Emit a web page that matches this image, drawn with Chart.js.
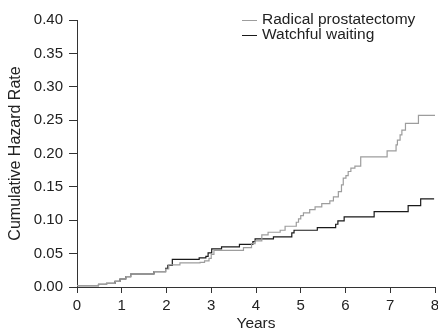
<!DOCTYPE html>
<html>
<head>
<meta charset="utf-8">
<script src="https://cdn.jsdelivr.net/npm/chart.js@4/dist/chart.umd.min.js"></script>
<style>
  html, body { margin: 0; padding: 0; background: #fff; }
  #wrap { width: 438px; height: 331px; }
</style>
</head>
<body>
<div id="wrap"><canvas id="HazardChart"></canvas></div>
<script>
// step times (years) and cumulative hazard after each step
const rpYears = [0, 0.48, 0.66, 0.85, 0.96, 1.09, 1.2, 1.72, 1.98, 2.05, 2.3, 2.75, 2.85, 2.95, 3.0, 3.06,
    3.72, 3.9, 3.98, 4.13, 4.27, 4.54, 4.65, 4.9, 4.95, 5.0, 5.06, 5.2, 5.32, 5.47, 5.65, 5.73, 5.84, 5.91,
    5.95, 6.01, 6.06, 6.12, 6.21, 6.34, 6.93, 7.13, 7.16, 7.22, 7.26, 7.34, 7.63, 8.0];
const rpHazard = [0.002, 0.004, 0.0055, 0.0085, 0.012, 0.0155, 0.0195, 0.023, 0.027, 0.033, 0.036, 0.037, 0.039,
    0.043, 0.049, 0.055, 0.059, 0.065, 0.069, 0.078, 0.082, 0.085, 0.091, 0.097, 0.102, 0.107, 0.111, 0.116,
    0.120, 0.125, 0.129, 0.135, 0.143, 0.153, 0.163, 0.167, 0.173, 0.178, 0.181, 0.195, 0.204, 0.213, 0.220,
    0.228, 0.235, 0.245, 0.257, 0.257];

const wwYears = [0, 0.48, 0.66, 0.85, 0.96, 1.09, 1.2, 1.72, 1.98, 2.03, 2.13, 2.73, 2.88, 2.93, 3.01, 3.23,
    3.63, 3.93, 3.98, 4.39, 4.8, 4.85, 5.37, 5.78, 5.83, 5.97, 6.64, 7.4, 7.68, 7.98];
const wwHazard = [0.002, 0.004, 0.0055, 0.0085, 0.012, 0.0155, 0.0195, 0.023, 0.028, 0.0325, 0.0415, 0.0435,
    0.046, 0.051, 0.057, 0.060, 0.064, 0.068, 0.072, 0.075, 0.081, 0.085, 0.089, 0.094, 0.099, 0.105, 0.113,
    0.122, 0.132, 0.132];

const yTicks = [0, 0.05, 0.10, 0.15, 0.20, 0.25, 0.30, 0.35, 0.40];
const xTicks = [0, 1, 2, 3, 4, 5, 6, 7, 8];

const seriesLabels = ['Radical prostatectomy', 'Watchful waiting'];

const family = "'Liberation Sans', Arial, sans-serif";
const tickFont = { family: family, size: 15 };
const titleFont = { family: family, size: 15.5 };
const axisColor = '#333';

const toPoints = (xs, ys) => xs.map((x, i) => ({ x: x, y: ys[i] }));

// small legend in the top right corner, like the original
const cornerLegend = {
    id: 'cornerLegend',
    afterDraw(chart) {
        const ctx = chart.ctx;
        ctx.save();
        ctx.font = `15.5px ${family}`;
        ctx.textBaseline = 'middle';
        chart.data.datasets.forEach((ds, i) => {
            const y = 19.5 + i * 15;
            ctx.strokeStyle = ds.borderColor;
            ctx.lineWidth = 1;
            ctx.beginPath();
            ctx.moveTo(242, y + 1);
            ctx.lineTo(257, y + 1);
            ctx.stroke();
            ctx.fillStyle = '#222';
            ctx.fillText(ds.label, 262, y);
        });
        ctx.restore();
    }
};

new Chart(document.getElementById('HazardChart').getContext('2d'), {
    type: 'line',
    data: {
        datasets: [
            {
                label: seriesLabels[0],
                data: toPoints(rpYears, rpHazard),
                borderColor: '#9d9d9d',
                borderWidth: 1.2,
                stepped: true,
                pointRadius: 0,
                fill: false
            },
            {
                label: seriesLabels[1],
                data: toPoints(wwYears, wwHazard),
                borderColor: '#1a1a1a',
                borderWidth: 1.2,
                stepped: true,
                pointRadius: 0,
                fill: false
            }
        ]
    },
    options: {
        responsive: true,
        maintainAspectRatio: false,
        animation: false,
        layout: { padding: { top: 20, right: 3, left: 0, bottom: 0 } },
        plugins: {
            legend: { display: false },
            tooltip: { enabled: false }
        },
        scales: {
            x: {
                type: 'linear',
                min: 0,
                max: 8,
                afterBuildTicks: s => { s.ticks = xTicks.map(v => ({ value: v })); },
                afterFit: s => { s.height = 44; s.paddingRight = 0; s.paddingLeft = 0; },
                ticks: { color: '#222', font: tickFont, padding: 4, maxRotation: 0 },
                grid: { drawOnChartArea: false, drawTicks: true, tickLength: 6, color: axisColor },
                border: { display: true, color: axisColor },
                title: { display: true, text: 'Years', color: '#222', font: titleFont, padding: { top: 0, bottom: -2 } }
            },
            y: {
                min: 0,
                max: 0.4,
                afterBuildTicks: s => { s.ticks = yTicks.map(v => ({ value: v })); },
                afterFit: s => { s.width = 77; },
                ticks: { color: '#222', font: tickFont, padding: 6, callback: v => v.toFixed(2) },
                grid: { drawOnChartArea: false, drawTicks: true, tickLength: 8, color: axisColor },
                border: { display: true, color: axisColor },
                title: { display: true, text: 'Cumulative Hazard Rate', color: '#222', font: { family: family, size: 16 }, padding: { top: 6, bottom: 0 } }
            }
        }
    },
    plugins: [cornerLegend]
});
</script>
</body>
</html>
